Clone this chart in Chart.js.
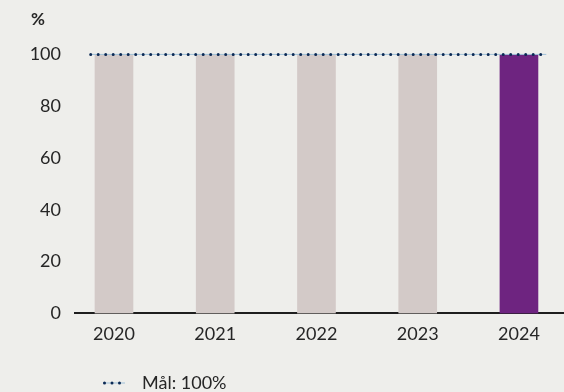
<!DOCTYPE html>
<html>
<head>
<meta charset="utf-8">
<script src="https://cdn.jsdelivr.net/npm/chart.js@4.4.1/dist/chart.umd.min.js"></script>
<style>
    html, body { margin: 0; background: #eeeeeb; }
    #wrap { width: 564px; height: 392px; }
</style>
</head>
<body>
<div id="wrap"><canvas id="chart"></canvas></div>
<script>
const years = ['2020', '2021', '2022', '2023', '2024'];
const share = [100, 100, 100, 100, 100];
const highlightYear = '2024';
const yTicks = [0, 20, 40, 60, 80, 100];
const unitLabel = '%';
const targetLabel = 'Mål: 100%';
const targetValue = 100;
const targetSpan = [-0.23, 4.27]; // x extent of the target line, in category units

const grey = '#d3cac8';
const purple = '#6e2480';
const navy = '#0c2a55';
const lightBlue = '#9fc0d8';
const textColor = '#262626';
const font = { family: 'Lato', size: 18 };

// small sample for the legend: thin line with three dots on it
function legendSample() {
    let c = document.createElement('canvas');
    c.width = 39;
    c.height = 8;
    let ctx = c.getContext('2d');
    ctx.strokeStyle = lightBlue;
    ctx.lineWidth = 1;
    ctx.beginPath();
    ctx.moveTo(9, 4);
    ctx.lineTo(31, 4);
    ctx.stroke();
    ctx.fillStyle = navy;
    [10.5, 18, 25.5].forEach(x => {
        ctx.beginPath();
        ctx.arc(x, 4, 1.5, 0, Math.PI * 2);
        ctx.fill();
    });
    return c;
}

let bars = years.map((y, i) => ({ x: i, y: share[i] }));
let targetLine = targetSpan.map(x => ({ x: x, y: targetValue }));

new Chart('chart', {
    type: 'bar',
    data: {
        datasets: [
            {
                type: 'line',
                label: targetLabel,
                data: targetLine,
                borderColor: navy,
                borderWidth: 3,
                borderDash: [0, 7.5],
                borderCapStyle: 'round',
                pointRadius: 0,
                clip: false,
                order: 0
            },
            {
                type: 'line',
                label: '',
                data: targetLine,
                borderColor: lightBlue,
                borderWidth: 1,
                pointRadius: 0,
                clip: false,
                order: 1
            },
            {
                label: 'Andel',
                data: bars,
                backgroundColor: years.map(y => y == highlightYear ? purple : grey),
                barThickness: 38,
                order: 2
            }
        ]
    },
    options: {
        responsive: true,
        maintainAspectRatio: false,
        animation: false,
        layout: { padding: { left: 31, right: 1, top: 0, bottom: -10 } },
        scales: {
            x: {
                type: 'linear',
                offset: false,
                min: -0.385,
                max: 4.435,
                afterBuildTicks: axis => { axis.ticks = years.map((y, i) => ({ value: i })); },
                grid: { display: false, drawTicks: false },
                border: { display: true, color: '#1e1e1e', width: 2 },
                ticks: {
                    color: textColor,
                    font: font,
                    padding: 10,
                    callback: v => years[v]
                }
            },
            y: {
                min: 0,
                max: 100,
                afterBuildTicks: axis => { axis.ticks = yTicks.map(v => ({ value: v })); },
                afterFit: axis => { axis.width = 44; },
                grid: { display: false, drawTicks: false },
                border: { display: false },
                ticks: { color: textColor, font: font, padding: 14 }
            }
        },
        plugins: {
            title: {
                display: true,
                text: unitLabel,
                align: 'start',
                color: textColor,
                font: { family: 'Lato', size: 17, weight: 'bold' },
                padding: { top: 9, bottom: 25 }
            },
            legend: {
                position: 'bottom',
                align: 'start',
                fullSize: false,
                labels: {
                    filter: item => item.text != '' && item.text != 'Andel',
                    usePointStyle: true,
                    pointStyle: legendSample(),
                    pointStyleWidth: 39,
                    color: textColor,
                    font: font,
                    padding: 19
                }
            },
            tooltip: { enabled: false }
        }
    }
});
</script>
</body>
</html>
